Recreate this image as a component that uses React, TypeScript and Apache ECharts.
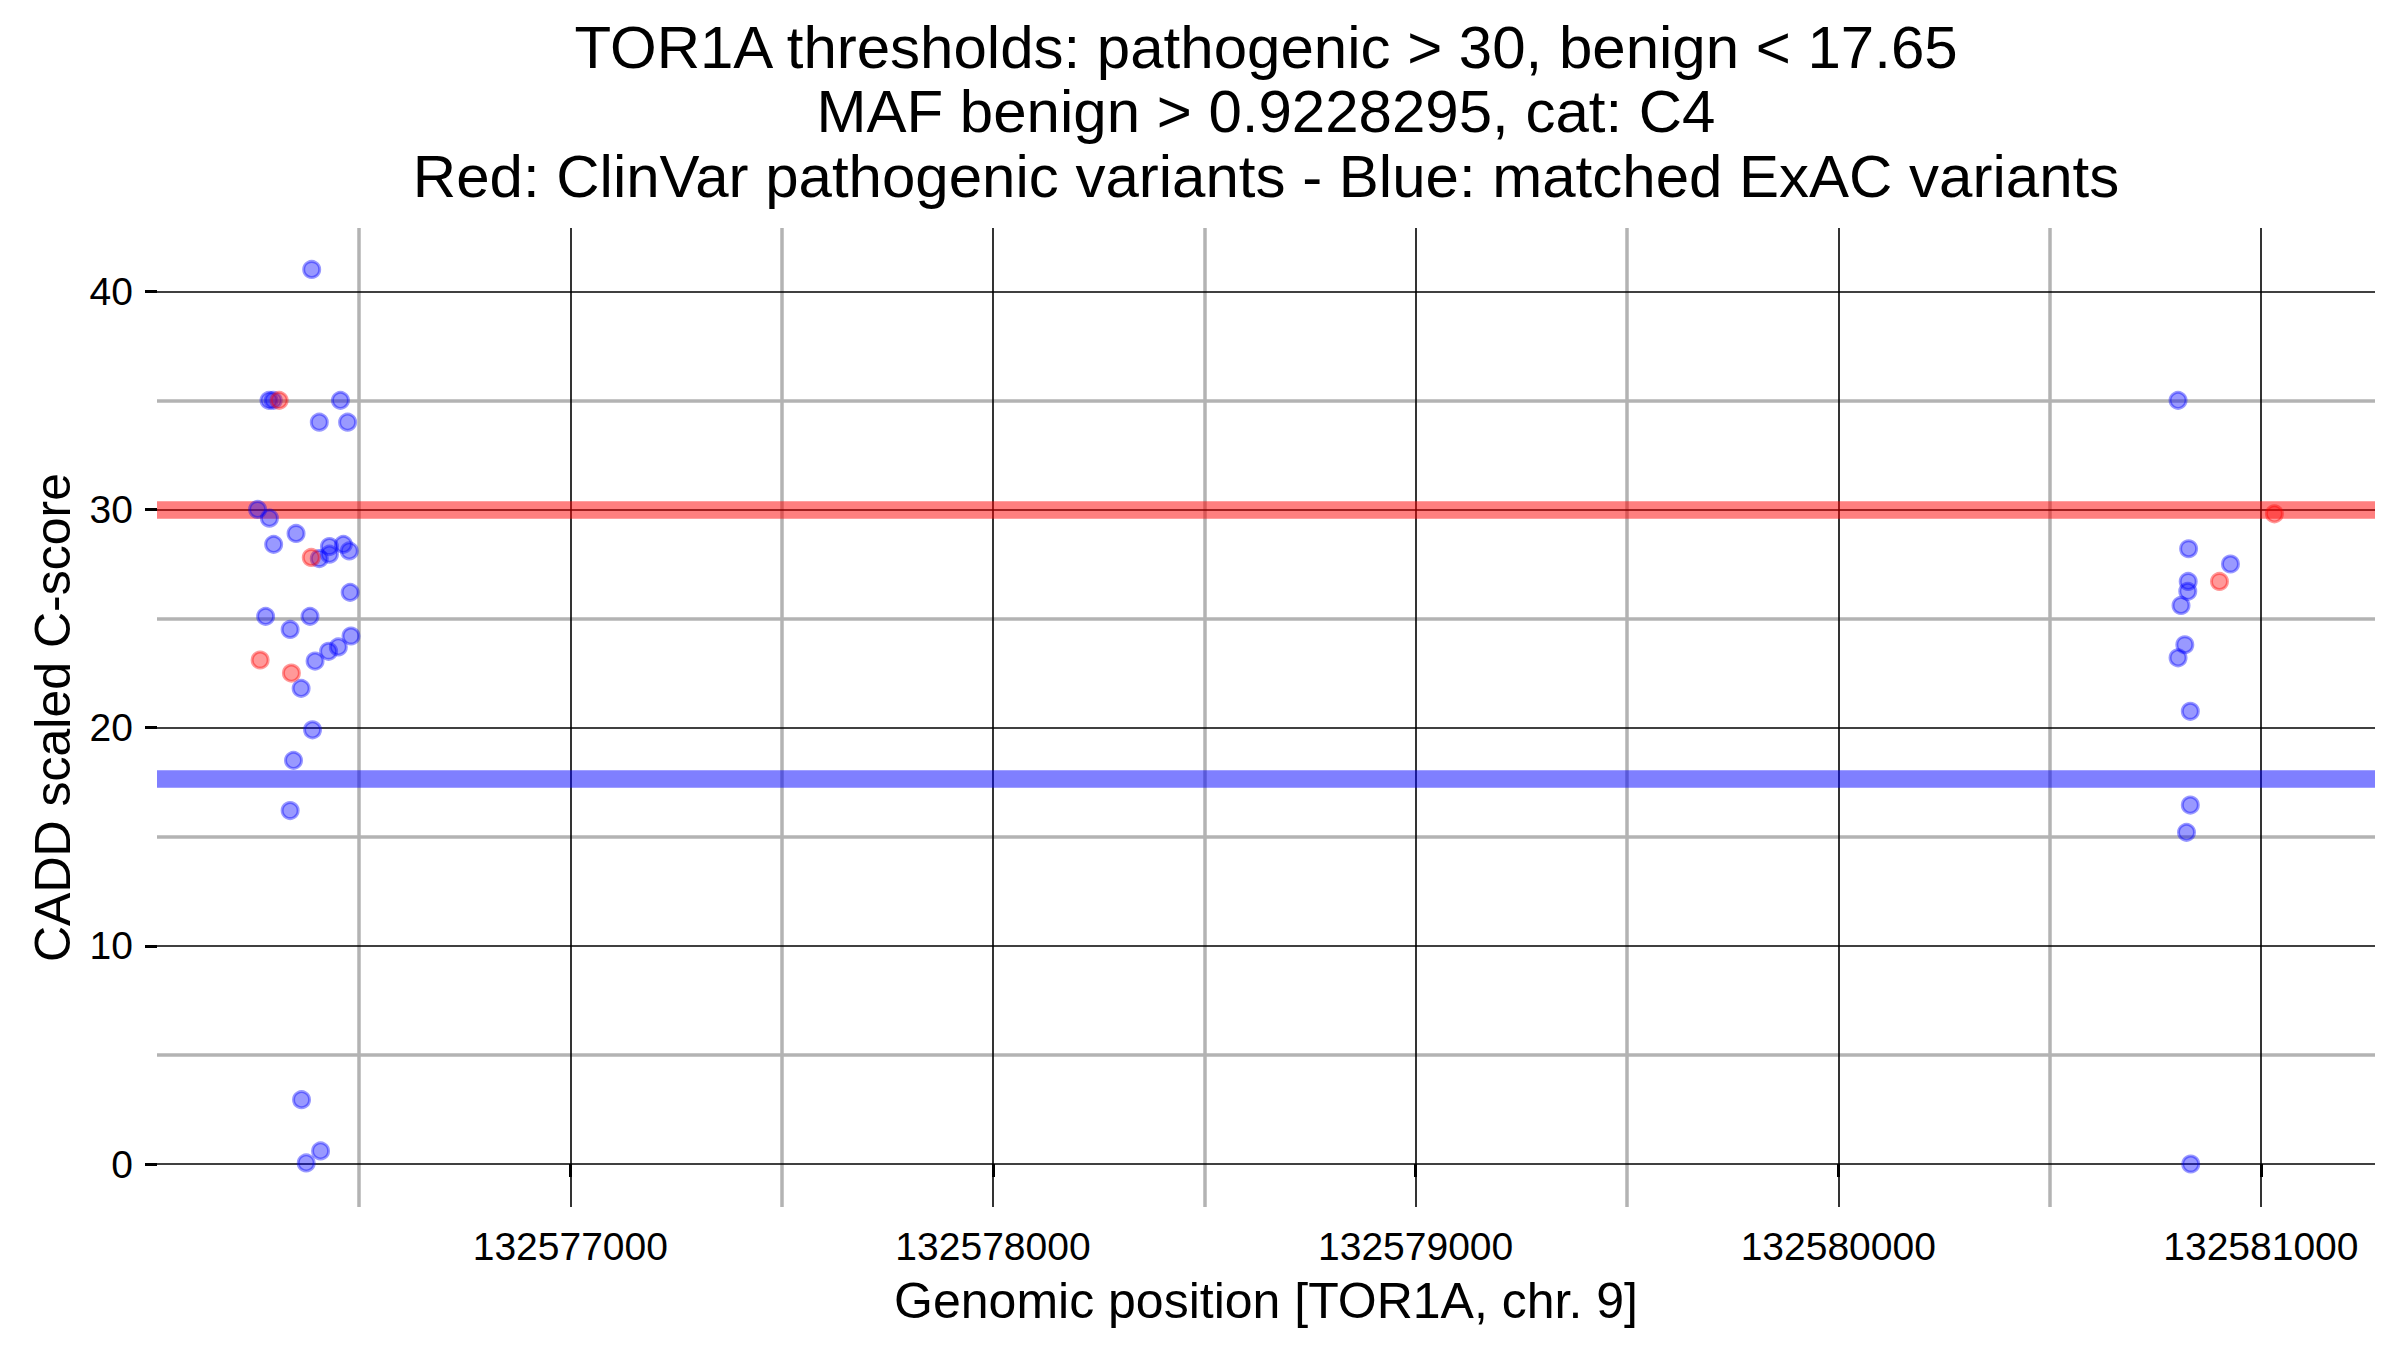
import React, { useEffect, useRef } from "react";
import * as echarts from "echarts";

// ---- data ----
const exacPos = [
  132576388, 132576287, 132576297, 132576456, 132576406, 132576473, 132576260,
  132576288, 132576351, 132576298, 132576406, 132576430, 132576463, 132576430,
  132576477, 132576479, 132576279, 132576384, 132576337, 132576481, 132576451,
  132576428, 132576396, 132576363, 132576390, 132576345, 132576337, 132576364,
  132576409, 132576375,
  132580804, 132580829, 132580928, 132580828, 132580827, 132580811, 132580820,
  132580804, 132580833, 132580833, 132580824, 132580834,
];
const exacScore = [
  41, 35, 35, 35, 34, 34, 30,
  29.6, 28.9, 28.4, 27.75, 28.3, 28.4, 27.95,
  28.1, 26.2, 25.1, 25.1, 24.5, 24.2, 23.7,
  23.5, 23.05, 21.8, 19.9, 18.5, 16.2, 2.95,
  0.6, 0.05,
  35, 28.2, 27.5, 26.7, 26.25, 25.6, 23.8,
  23.2, 20.75, 16.45, 15.2, 0,
];
const clinvarPos = [132576311, 132576387, 132576266, 132576340, 132580902, 132581032];
const clinvarScore = [35, 27.8, 23.1, 22.5, 26.7, 29.8];

const pathogenicThreshold = 30;
const benignThreshold = 17.65;

const xMajorTicks = [132577000, 132578000, 132579000, 132580000, 132581000];
const xMinorTicks = [132576500, 132577500, 132578500, 132579500, 132580500];
const yMajorTicks = [0, 10, 20, 30, 40];
const yMinorTicks = [5, 15, 25, 35];

const titleLines = [
  "TOR1A thresholds: pathogenic > 30, benign < 17.65",
  "MAF benign > 0.9228295, cat: C4",
  "Red: ClinVar pathogenic variants - Blue: matched ExAC variants",
];
const xTitle = "Genomic position [TOR1A, chr. 9]";
const yTitle = "CADD scaled C-score";

// ---- axis extents ----
const X_MIN = 132576022;
const X_MAX = 132581270;
const Y_MIN = -1.97;
const Y_MAX = 42.9;

const FONT = "'Liberation Sans', Arial, Helvetica, sans-serif";

const hLine = (v: number) => ({ coords: [[X_MIN, v], [X_MAX, v]] });
const vLine = (v: number) => ({ coords: [[v, Y_MIN], [v, Y_MAX]] });

export default function App() {
  const ref = useRef<HTMLDivElement>(null);
  useEffect(() => {
    if (!ref.current) return;
    const chart = echarts.init(ref.current, undefined, { renderer: "svg" });
    const grid = { left: 157, right: 25, top: 228, bottom: 143 };
    const panelCx = grid.left + (2400 - grid.left - grid.right) / 2;
    const panelCy = grid.top + (1350 - grid.top - grid.bottom) / 2;

    const option: any = {
      animation: false,
      backgroundColor: "#ffffff",
      grid,
      xAxis: {
        type: "value",
        min: X_MIN,
        max: X_MAX,
        axisLine: { show: false },
        splitLine: { show: false },
        axisTick: {
          show: true,
          customValues: xMajorTicks,
          length: 13,
          lineStyle: { color: "#000", width: 3 },
        },
        axisLabel: {
          customValues: xMajorTicks,
          formatter: (v: number) => String(v),
          fontSize: 39,
          color: "#000",
          fontFamily: FONT,
          margin: 20,
        },
      },
      yAxis: {
        type: "value",
        min: Y_MIN,
        max: Y_MAX,
        axisLine: { show: false },
        splitLine: { show: false },
        axisTick: {
          show: true,
          customValues: yMajorTicks,
          length: 12,
          lineStyle: { color: "#000", width: 3 },
        },
        axisLabel: {
          customValues: yMajorTicks,
          formatter: (v: number) => String(v),
          fontSize: 39,
          color: "#000",
          fontFamily: FONT,
          margin: 24,
        },
      },
      graphic: [
        {
          type: "text",
          x: panelCx,
          y: 15,
          silent: true,
          style: {
            text: titleLines.join("\n"),
            fontSize: 60,
            lineHeight: 64.5,
            fontFamily: FONT,
            fill: "#000",
            align: "center",
            verticalAlign: "top",
            textAlign: "center",
            textVerticalAlign: "top",
          },
        },
        {
          type: "text",
          x: panelCx,
          y: 1301,
          silent: true,
          style: {
            text: xTitle,
            fontSize: 50,
            fontFamily: FONT,
            fill: "#000",
            align: "center",
            verticalAlign: "middle",
            textAlign: "center",
            textVerticalAlign: "middle",
          },
        },
        {
          type: "text",
          x: 53,
          y: panelCy,
          rotation: Math.PI / 2,
          silent: true,
          style: {
            text: yTitle,
            fontSize: 50,
            fontFamily: FONT,
            fill: "#000",
            align: "center",
            verticalAlign: "middle",
            textAlign: "center",
            textVerticalAlign: "middle",
          },
        },
      ],
      series: [
        {
          type: "lines",
          coordinateSystem: "cartesian2d",
          silent: true,
          z: 1,
          lineStyle: { color: "#b3b3b3", width: 3.5, opacity: 1 },
          data: [...xMinorTicks.map(vLine), ...yMinorTicks.map(hLine)],
        },
        {
          type: "lines",
          coordinateSystem: "cartesian2d",
          silent: true,
          z: 2,
          lineStyle: { color: "#000000", width: 1.6, opacity: 1 },
          data: [...xMajorTicks.map(vLine), ...yMajorTicks.map(hLine)],
        },
        {
          type: "lines",
          coordinateSystem: "cartesian2d",
          silent: true,
          z: 3,
          lineStyle: { color: "#ff0000", width: 17.5, opacity: 0.5 },
          data: [hLine(pathogenicThreshold)],
        },
        {
          type: "lines",
          coordinateSystem: "cartesian2d",
          silent: true,
          z: 3,
          lineStyle: { color: "#0000ff", width: 17.5, opacity: 0.5 },
          data: [hLine(benignThreshold)],
        },
        {
          type: "scatter",
          z: 4,
          symbol: "circle",
          symbolSize: 16,
          silent: true,
          itemStyle: {
            color: "rgba(0,0,255,0.5)",
            borderColor: "rgba(0,0,255,0.5)",
            borderWidth: 3,
          },
          data: exacPos.map((p, i) => [p, exacScore[i]]),
        },
        {
          type: "scatter",
          z: 5,
          symbol: "circle",
          symbolSize: 16,
          silent: true,
          itemStyle: {
            color: "rgba(255,0,0,0.5)",
            borderColor: "rgba(255,0,0,0.5)",
            borderWidth: 3,
          },
          data: clinvarPos.map((p, i) => [p, clinvarScore[i]]),
        },
      ],
    };
    chart.setOption(option);
    return () => chart.dispose();
  }, []);
  return (
    <div
      ref={ref}
      style={{ position: "absolute", left: 0, top: 0, width: 2400, height: 1350, background: "#fff" }}
    />
  );
}
